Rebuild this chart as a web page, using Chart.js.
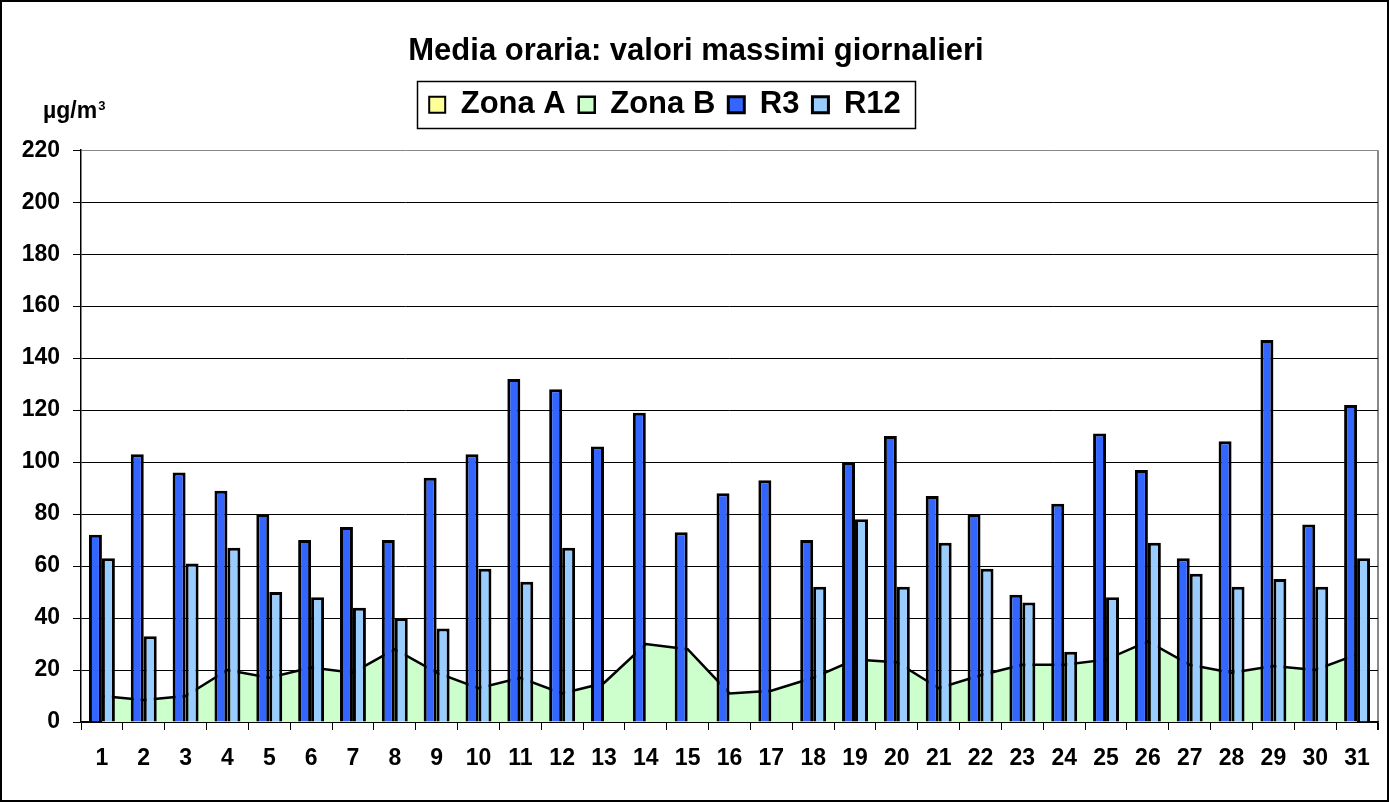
<!DOCTYPE html>
<html>
<head>
<meta charset="utf-8">
<script src="https://cdn.jsdelivr.net/npm/chart.js@4/dist/chart.umd.min.js"></script>
<style>
  html, body { margin: 0; padding: 0; background: #fff; }
  #wrap { width: 1389px; height: 802px; position: relative; }
</style>
</head>
<body>
<div id="wrap"><canvas id="chart"></canvas></div>
<script>
// data
const days = ['1','2','3','4','5','6','7','8','9','10','11','12','13','14','15','16',
  '17','18','19','20','21','22','23','24','25','26','27','28','29','30','31'];
const zonaA = [];  // nothing visible for Zona A
const zonaB = [10, 8.5, 10, 20, 17, 21, 19, 28, 19, 13, 17, 11, 15, 30, 28, 11,
  12, 17, 24, 23, 13, 18, 22, 22, 24, 31, 22, 19, 21.5, 20, 26];
const r3 = [72, 103, 96, 89, 80, 70, 75, 70, 94, 103, 132, 128, 106, 119, 73, 88,
  93, 70, 100, 110, 87, 80, 49, 84, 111, 97, 63, 108, 147, 76, 122];
const r12 = [63, 33, 61, 67, 50, 48, 44, 40, 36, 59, 54, 67, null, null, null, null,
  null, 52, 78, 52, 69, 59, 46, 27, 48, 69, 57, 52, 55, 52, 63];
const yTicks = [0, 20, 40, 60, 80, 100, 120, 140, 160, 180, 200, 220];

const FONT = "Arial, 'Liberation Sans', sans-serif";
const LEGEND_SHIFT = -24;
const TITLE_SHIFT = 7;

// frame, legend box, unit label
const framePlugin = {
  id: 'frame',
  beforeDraw(chart) {
    const c = chart.ctx;
    c.save();
    c.fillStyle = '#fff';
    c.fillRect(0, 0, chart.width, chart.height);
    c.restore();
  },
  afterUpdate(chart) {
    const lg = chart.legend;
    lg.left += LEGEND_SHIFT;
    lg.right += LEGEND_SHIFT;
    lg.legendHitBoxes.forEach(hb => hb.left += LEGEND_SHIFT);
    chart.titleBlock.left += TITLE_SHIFT;
    chart.titleBlock.right += TITLE_SHIFT;
  },
  afterDraw(chart) {
    const c = chart.ctx;
    c.save();
    c.strokeStyle = '#000';
    c.lineWidth = 2;
    c.strokeRect(1, 1, chart.width - 2, chart.height - 2);

    const hbs = chart.legend.legendHitBoxes;
    if (hbs.length) {
      const first = hbs[0], last = hbs[hbs.length - 1];
      const cy = first.top + first.height / 2;
      const x0 = Math.round(first.left - 12) + 0.5;
      const x1 = Math.round(last.left + last.width + 14) + 0.5;
      c.lineWidth = 1.5;
      c.strokeRect(x0, Math.round(cy - 24) + 0.5, x1 - x0, 47);
    }

    c.fillStyle = '#000';
    c.textBaseline = 'alphabetic';
    c.font = 'bold 23px ' + FONT;
    c.fillText('\u00b5g/m', 43, 118);
    const w = c.measureText('\u00b5g/m').width;
    c.font = 'bold 13px ' + FONT;
    c.fillText('3', 43 + w + 1, 110);
    c.restore();
  }
};

const ctx = document.getElementById('chart').getContext('2d');
const chart = new Chart(ctx, {
  data: {
    labels: days,
    datasets: [
      {
        type: 'line', label: 'Zona A', data: zonaA,
        backgroundColor: '#FFFF99', borderColor: '#000', borderWidth: 2,
        fill: 'origin', pointRadius: 0, order: 2
      },
      {
        type: 'line', label: 'Zona B', data: zonaB,
        backgroundColor: '#CCFFCC', borderColor: '#000', borderWidth: 2.5,
        fill: 'origin', pointRadius: 0, tension: 0, order: 1
      },
      {
        type: 'bar', label: 'R3', data: r3,
        backgroundColor: '#3366FF', borderColor: '#000', borderWidth: 3, order: 0
      },
      {
        type: 'bar', label: 'R12', data: r12,
        backgroundColor: '#99CCFF', borderColor: '#000', borderWidth: 3, order: 0
      }
    ]
  },
  options: {
    responsive: true,
    maintainAspectRatio: false,
    animation: false,
    layout: { padding: { left: 0, right: 11, top: 0, bottom: 0 } },
    datasets: {
      bar: { categoryPercentage: 0.62, barPercentage: 1.0 }
    },
    plugins: {
      title: {
        display: true,
        text: 'Media oraria: valori massimi giornalieri',
        color: '#000',
        font: { family: FONT, size: 31, weight: 'bold' },
        padding: { top: 33, bottom: 6 }
      },
      subtitle: {
        // spacer between legend and plot
        display: true, text: ' ', weight: 500,
        font: { size: 10 },
        padding: { top: 3, bottom: 5 }
      },
      legend: {
        position: 'top',
        labels: {
          color: '#000',
          font: { family: FONT, size: 31, weight: 'bold' },
          boxWidth: 16,
          boxHeight: 16,
          padding: 13,
          sort: (a, b) => a.datasetIndex - b.datasetIndex
        }
      },
      tooltip: { enabled: false }
    },
    scales: {
      x: {
        type: 'category',
        offset: true,
        grid: {
          offset: true,
          drawOnChartArea: true,
          color: c => c.type === 'tick' ? 'rgba(0,0,0,0)' : '#888',
          lineWidth: c => c.type === 'tick' ? 1 : 2,
          tickColor: '#000',
          tickLength: 8
        },
        border: { color: '#000', width: 1.5 },
        ticks: {
          color: '#000',
          font: { family: FONT, size: 23, weight: 'bold' },
          padding: 15,
          maxRotation: 0,
          autoSkip: false
        },
        afterFit: s => { s.height = 80; }
      },
      y: {
        min: 0,
        max: 220,
        afterBuildTicks: s => { s.ticks = yTicks.map(v => ({ value: v })); },
        grid: {
          color: c => (c.tick && c.tick.value === 220) ? '#888' : '#000',
          tickColor: '#000',
          tickLength: 8
        },
        border: { color: '#000', width: 1.5 },
        ticks: {
          color: '#000',
          font: { family: FONT, size: 23, weight: 'bold' },
          padding: 13
        },
        afterFit: s => { s.width = 81; }
      }
    }
  },
  plugins: [framePlugin]
});
</script>
</body>
</html>
